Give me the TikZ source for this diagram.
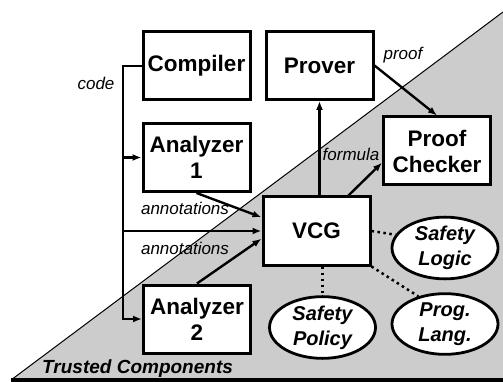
\documentclass[tikz,border=0pt]{standalone}
\usepackage{fontspec}
\setmainfont{Liberation Sans}
\usetikzlibrary{shapes,arrows.meta}

\definecolor{trustgray}{RGB}{204,204,204}

\tikzset{
    block/.style={draw, line width=3pt, fill=white, minimum width=107pt, minimum height=68pt,
        inner sep=0pt, align=center, font=\fontsize{22.5}{26}\selectfont\bfseries},
    logicell/.style={ellipse, draw, line width=2.8pt, fill=white, minimum width=106pt, minimum height=60pt,
        inner sep=0pt, align=center, font=\fontsize{20}{25}\selectfont\bfseries\itshape},
    wire/.style={line width=2.4pt},
    dots/.style={line width=2.5pt, dash pattern=on 2.5pt off 3.5pt},
    tag/.style={font=\fontsize{17}{19}\selectfont\itshape, inner sep=0pt}
}

\begin{document}
\begin{tikzpicture}[x=1pt, y=-1pt, >={Latex[length=9pt,width=7pt]}]  % pixel-like units, y going down
    \useasboundingbox (0,0) rectangle (503,382);

    % Trusted area
    \fill[trustgray] (11,380) -- (503,380) -- (503,12) -- cycle;
    \draw[line width=1pt] (11,380) -- (503,12);
    \draw[line width=3.5pt] (11,380) -- (503,380);
    \node[anchor=base west, font=\fontsize{19}{21}\selectfont\bfseries\itshape, inner sep=0pt] (trusted) at (42,373) {Trusted Components};

    % Boxes
    \node[block] (compiler) at (196.5,66) {Compiler};
    \node[block] (prover) at (319.5,65.5) {Prover};
    \node[block] (analyzer1) at (196.5,157.5) {Analyzer\\1};
    \node[block] (vcg) at (316.5,231) {VCG};
    \node[block] (analyzer2) at (197,319) {Analyzer\\2};
    \node[block] (checker) at (437,151) {Proof\\Checker};

    % Ellipses
    \node[logicell] (logic) at (445,248) {Safety\\Logic};
    \node[logicell] (policy) at (322.5,327.5) {Safety\\Policy};
    \node[logicell] (lang) at (445,324) {Prog.\\Lang.};

    % Code bus on the left
    \coordinate (bus) at (123,0);
    \draw[wire,->] (compiler.west) -- (compiler.west -| bus) |- (analyzer2.west);
    \draw[wire,->] (bus |- analyzer1.west) -- (analyzer1.west);
    \draw[wire,->] (bus |- vcg.west) -- (vcg.west);
    \node[tag] (code) at (96,83) {code};

    % Annotations into VCG
    \draw[wire,->] (analyzer1.south) -- (vcg.166);
    \draw[wire,->] (analyzer2.north) -- (vcg.188);
    \node[tag] (ann1) at (185,208) {annotations};
    \node[tag] (ann2) at (185,248) {annotations};

    % VCG outputs
    \draw[wire,->] (vcg.north -| prover.south) -- (prover.south);
    \draw[wire,->] (vcg.48) -- (checker.192);
    \node[tag] (formula) at (351,154) {formula};
    \draw[wire,->] (prover.east) -- (checker.north);
    \node[tag] (proof) at (403,55) {proof};

    % Dotted links
    \draw[dots] (vcg.east) -- (logic.165);
    \draw[dots] (vcg.south east) -- (lang.134);
    \draw[dots] (policy.north |- vcg.south) -- (policy.north);

\end{tikzpicture}
\end{document}
